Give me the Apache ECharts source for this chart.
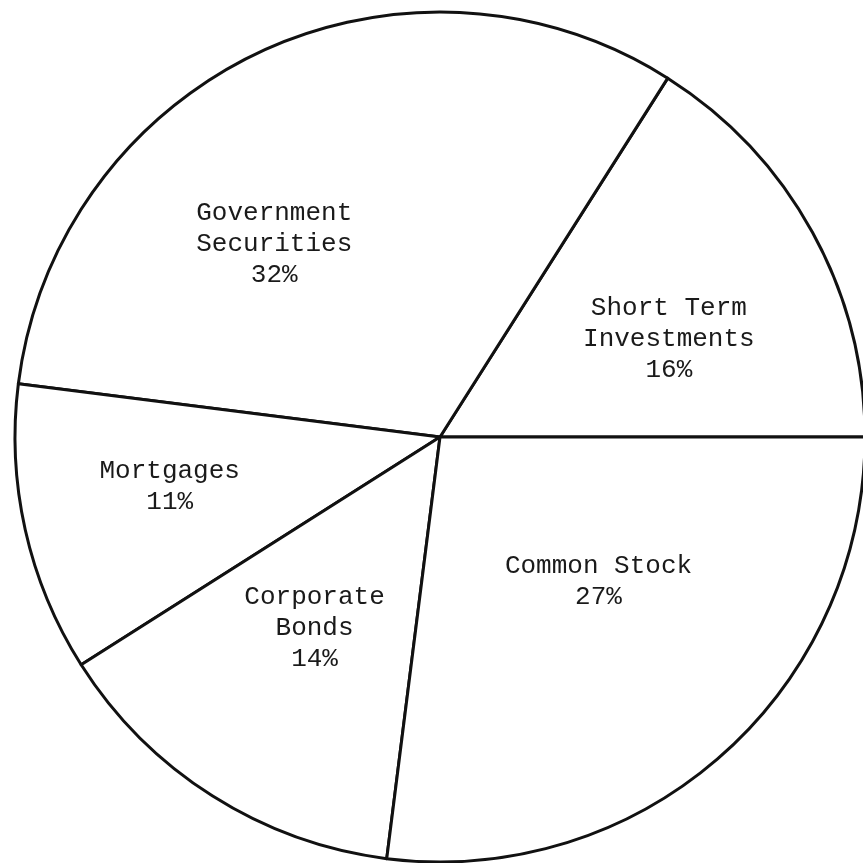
<!DOCTYPE html>
<html>
<head><meta charset="utf-8"></head>
<script type="text/javascript" src="https://cdn.jsdelivr.net/npm/echarts@6/dist/echarts.min.js"></script>
<body style="margin:0;background-color:white;">
    <div id="main" style="width:863px;height:863px;"></div>
</body>
<script>
// slices, counter-clockwise from east
var names = ['Short Term\nInvestments', 'Government\nSecurities', 'Mortgages', 'Corporate\nBonds', 'Common Stock'];
var values = [16, 32, 11, 14, 27];

// label nudges away from the default inside spot
var offsets = [[40, 6], [-74, 2], [-60, 3], [-10, 9], [16, -17]];

var mydata = [];
for (var i = 0; i < names.length; i++) {
    mydata.push({
        name: names[i],
        value: values[i],
        label: {offset: offsets[i]}
    });
}

var myChart = echarts.init(document.getElementById('main'));

var option = {
    backgroundColor: '#fff',
    animation: false,
    series: [{
        type: 'pie',
        center: [440, 437],
        radius: [0, 425],
        startAngle: 0,
        clockwise: false,
        avoidLabelOverlap: false,
        itemStyle: {
            color: '#fff',
            borderColor: '#111',
            borderWidth: 3
        },
        label: {
            show: true,
            position: 'inside',
            formatter: function (p) { return p.name + '\n' + p.value + '%'; },
            fontFamily: 'Liberation Mono',
            fontSize: 26,
            lineHeight: 31,
            color: '#1a1a1a',
            align: 'center'
        },
        labelLine: {show: false},
        emphasis: {disabled: true},
        data: mydata
    }]
};

option && myChart.setOption(option);
</script>
</html>
